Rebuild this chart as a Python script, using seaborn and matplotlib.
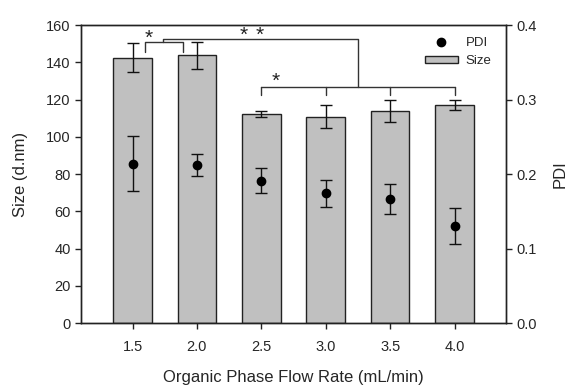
import matplotlib
matplotlib.use("Agg")
import matplotlib.pyplot as plt
import seaborn as sns
import pandas as pd
from matplotlib.lines import Line2D
from matplotlib.patches import Patch

categories = ["1.5", "2.0", "2.5", "3.0", "3.5", "4.0"]
size_mean = [142.5, 143.8, 112.2, 110.8, 114.0, 117.0]
size_err = [7.8, 7.3, 1.5, 6.0, 6.0, 2.7]
pdi_mean = [0.214, 0.2125, 0.191, 0.174, 0.166, 0.130]
pdi_err = [0.037, 0.015, 0.017, 0.018, 0.020, 0.0245]

sns.set_theme(style="ticks")
plt.rcParams['font.family'] = ['Liberation Sans', 'DejaVu Sans']

df = pd.DataFrame({"rate": categories, "size": size_mean, "pdi": pdi_mean})

fig = plt.figure(figsize=(5.71, 3.85), dpi=100)
ax = fig.add_axes([0.1419, 0.161, 0.7443, 0.774])

sns.barplot(data=df, x="rate", y="size", ax=ax, color="#C0C0C0",
            edgecolor="#222222", linewidth=1.0, width=0.6, saturation=1, errorbar=None)
for p in ax.patches:
    p.set_facecolor("#C0C0C0")
xpos = list(range(len(categories)))
ax.errorbar(xpos, size_mean, yerr=size_err, fmt="none", ecolor="#111111",
            elinewidth=1.0, capsize=4, capthick=1.0, zorder=3)

ax.set_xlim(-0.8, 5.8)
ax.set_ylim(0, 160)
ax.set_yticks(range(0, 161, 20))
ax.set_xlabel("Organic Phase Flow Rate (mL/min)", fontsize=12, labelpad=12)
ax.set_ylabel("Size (d.nm)", fontsize=12, labelpad=13)
ax.tick_params(axis="both", labelsize=10.5, direction="out", length=4, width=1, color="#222222")
ax.tick_params(axis="x", pad=8)
for s in ax.spines.values():
    s.set_visible(True)
    s.set_color("#222222")
    s.set_linewidth(1.0)

ax2 = ax.twinx()
ax2.errorbar(xpos, pdi_mean, yerr=pdi_err, fmt="o", color="black", markersize=6,
             ecolor="#111111", elinewidth=1.0, capsize=4, capthick=1.0, zorder=4)
ax2.set_ylim(0, 0.4)
ax2.set_yticks([0.0, 0.1, 0.2, 0.3, 0.4])
ax2.set_yticklabels(["0.0", "0.1", "0.2", "0.3", "0.4"])
ax2.set_ylabel("PDI", fontsize=12, labelpad=11)
ax2.tick_params(axis="y", labelsize=10.5, direction="out", length=4, width=1, color="#222222")
for s in ax2.spines.values():
    s.set_color("#222222")
    s.set_linewidth(1.0)

# significance brackets
bc = "#333333"
lw = 1.0
sc = "#222222"
ax.plot([0.19, 0.19, 0.78, 0.78], [145.7, 151.0, 151.0, 145.7], color=bc, lw=lw, clip_on=False, zorder=5)
ax.text(0.25, 150.0, "*", ha="center", va="baseline", fontsize=15, color=sc)
ax.plot([0.47, 0.47, 3.5, 3.5], [151.0, 152.5, 152.5, 126.9], color=bc, lw=lw, clip_on=False, zorder=5)
ax.text(1.72, 151.5, "*", ha="center", va="baseline", fontsize=15, color=sc)
ax.text(1.97, 151.5, "*", ha="center", va="baseline", fontsize=15, color=sc)
ax.plot([2, 5], [126.9, 126.9], color=bc, lw=lw, zorder=5)
for x in [2, 3, 4, 5]:
    ax.plot([x, x], [126.9, 122.2], color=bc, lw=lw, zorder=5)
ax.text(2.22, 126.6, "*", ha="center", va="baseline", fontsize=15, color=sc)

handles = [Line2D([0], [0], marker="o", color="black", linestyle="none", markersize=6),
           Patch(facecolor="#C0C0C0", edgecolor="#222222", linewidth=1.0)]
ax2.legend(handles, ["PDI", "Size"], loc="upper right", frameon=False, fontsize=9.5,
           handlelength=2.5, handleheight=0.5, handletextpad=0.6, labelspacing=0.45,
           bbox_to_anchor=(0.985, 0.985), borderaxespad=0.2)

fig.savefig("out.png", dpi=100)
